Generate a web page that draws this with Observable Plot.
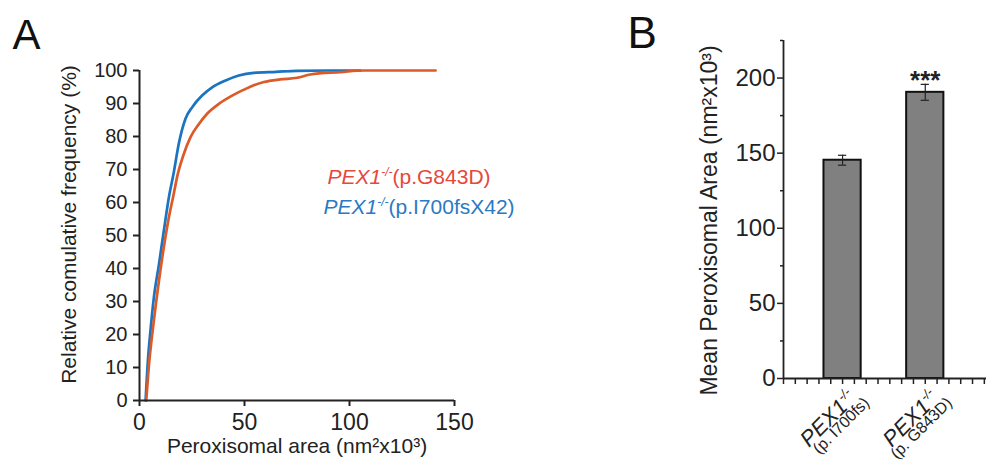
<!DOCTYPE html>
<html><head><meta charset="utf-8">
<script src="https://cdn.jsdelivr.net/npm/d3@7"></script>
<script src="https://cdn.jsdelivr.net/npm/@observablehq/plot@0.6"></script>
<style>
body{margin:0;background:#fff;}
#wrap{position:relative;width:986px;height:466px;overflow:hidden;background:#fff;}
#a{position:absolute;left:0;top:0;}
#b{position:absolute;left:560px;top:0;}
</style></head><body><div id="wrap"><div id="a"></div><div id="b"></div></div>
<script>
// ---------- Panel A data (cumulative distributions) ----------
const seriesNames = ["p.I700fsX42", "p.G843D"];
const blueX = [2.9, 4.1, 5.2, 6.8, 9.2, 11.6, 14.0, 16.3, 18.7, 21.9, 25.1, 29.8, 34.6, 41.0, 47.3, 54.4, 65, 75, 90, 105.2];
const blueY = [0, 13, 21, 31, 41, 51.5, 61.6, 69, 77.8, 85.4, 88.9, 92.4, 94.9, 97, 98.5, 99.3, 99.6, 99.9, 100, 100];
const redX = [3.2, 4.4, 6.8, 9.2, 11.6, 14.0, 16.3, 17.9, 21.1, 24.3, 28.3, 32.2, 37.8, 44.1, 50.5, 54.4, 59.2, 67, 75.1, 81.4, 95.7, 106.7, 141];
const redY = [0, 10, 24, 36, 46.5, 55.5, 62.6, 67.7, 74.7, 79.8, 83.8, 86.9, 89.9, 92.4, 94.4, 95.5, 96.5, 97.3, 97.8, 98.8, 99.5, 100, 100];
const xTicksA = [0, 50, 100, 150];
const yTicksA = [0, 10, 20, 30, 40, 50, 60, 70, 80, 90, 100];
const legendGene = ["PEX1", "PEX1"];
const legendSup = ["-/-", "-/-"];
const legendVariant = ["(p.G843D)", "(p.I700fsX42)"];

// ---------- Panel B data (means) ----------
const catGene = ["PEX1", "PEX1"];
const catSup = ["-/-", "-/-"];
const catVariant = ["(p. I700fs)", "(p. G843D)"];
const catPos = [1, 2];
const meanArea = [145.3, 190.5];
const semArea = [3.3, 5.3];
const sigMarks = ["", "***"];
const yTicksB = [0, 50, 100, 150, 200];
const yMinorB = [25, 75, 125, 175, 225];

const BLUE = "#1a74c0", ORANGE = "#dc5a27";
const FONT = "'Liberation Sans', Arial, sans-serif";

const curves = [
  ...blueX.map((x, i) => ({series: seriesNames[0], x, y: blueY[i]})),
  ...redX.map((x, i) => ({series: seriesNames[1], x, y: redY[i]}))
];

function setRich(el, lines, lineGap, lineShift) {
  const t = d3.select(el);
  t.selectAll("*").remove();
  t.text(null);
  lines.forEach((segs, li) => {
    let shift = 0;
    segs.forEach((s, si) => {
      const ts = t.append("tspan").text(s.t);
      let dy = 0;
      if (si === 0 && li > 0) { ts.attr("x", lineShift || 0); dy += lineGap; }
      if (s.sup) { dy -= s.sup; shift = s.sup; }
      else if (shift) { dy += shift; shift = 0; }
      if (dy) ts.attr("dy", dy);
      if (s.size) ts.attr("font-size", s.size);
      if (s.italic) ts.attr("font-style", "italic");
    });
  });
}
function findTexts(svg, str) {
  return d3.select(svg).selectAll("text").filter(function() { return this.textContent === str; }).nodes();
}

// ---------- Panel A ----------
const plotA = Plot.plot({
  width: 560, height: 466,
  marginLeft: 139, marginRight: 106, marginTop: 70, marginBottom: 66,
  style: {fontFamily: FONT, background: "white", color: "#222"},
  x: {domain: [0, 150], axis: null},
  y: {domain: [0, 100], axis: null},
  color: {domain: seriesNames, range: [BLUE, ORANGE]},
  marks: [
    Plot.axisY({ticks: yTicksA, tickSize: 6, tickPadding: 6, fontSize: 20, strokeWidth: 2, color: "#222", label: null}),
    Plot.axisX({ticks: xTicksA, tickSize: 6, tickPadding: 7, fontSize: 23, strokeWidth: 2, color: "#222", label: null}),
    Plot.line(curves, {x: "x", y: "y", z: "series", stroke: "series", strokeWidth: 2.7, curve: "monotone-x"}),
    Plot.ruleX([0], {stroke: "#222", strokeWidth: 2}),
    Plot.ruleY([0], {stroke: "#222", strokeWidth: 2}),
    Plot.text(["Relative comulative frequency (%)"], {text: d => d, frameAnchor: "left", rotate: -90, dx: -70, dy: -11, fontSize: 21, lineAnchor: "middle", textAnchor: "middle", fill: "#222"}),
    Plot.text(["Peroxisomal area (nm²x10³)"], {text: d => d, frameAnchor: "bottom", dy: 46, fontSize: 21, lineAnchor: "middle", fill: "#222"}),
    Plot.text(["A"], {text: d => d, frameAnchor: "top-left", dx: -127, dy: -22, fontSize: 42, lineAnchor: "bottom", textAnchor: "start", fill: "#111"}),
    Plot.text([0], {text: i => legendGene[i] + legendSup[i] + legendVariant[i], frameAnchor: "top-left", dx: 188, dy: 113, fontSize: 21, lineAnchor: "bottom", textAnchor: "start", fill: "#e6483b"}),
    Plot.text([1], {text: i => legendGene[i] + legendSup[i] + legendVariant[i], frameAnchor: "top-left", dx: 184, dy: 143, fontSize: 21, lineAnchor: "bottom", textAnchor: "start", fill: "#2b79c3"})
  ]
});
document.getElementById("a").appendChild(plotA);
[0, 1].forEach(i => {
  findTexts(plotA, legendGene[i] + legendSup[i] + legendVariant[i]).forEach(el =>
    setRich(el, [[{t: legendGene[i], italic: true}, {t: legendSup[i], italic: true, size: 12, sup: 8}, {t: legendVariant[i]}]], 0));
});

// ---------- Panel B ----------
const bars = catPos.map((pos, i) => ({pos, gene: catGene[i], sup: catSup[i], variant: catVariant[i], mean: meanArea[i], sem: semArea[i], sig: sigMarks[i]}));
const xStart = 2 / 7;
const xMinorB = d3.range(2, 20).map(k => k / 7);
const barHalf = 0.225, capHalf = 0.05;

const plotB = Plot.plot({
  width: 426, height: 466,
  marginLeft: 223, marginRight: 0, marginTop: 40, marginBottom: 88,
  style: {fontFamily: FONT, background: "white", color: "#222", overflow: "visible"},
  x: {domain: [xStart, 2.7404], axis: null},
  y: {domain: [0, 225], axis: null},
  marks: [
    Plot.axisY({ticks: yTicksB, tickSize: 6, tickPadding: 2, fontSize: 24, strokeWidth: 1.5, color: "#222", label: null}),
    Plot.axisY({ticks: yMinorB, tickSize: 3, tickFormat: () => "", strokeWidth: 1.5, color: "#222", label: null}),
    Plot.axisX({ticks: xMinorB, tickSize: 6, tickFormat: () => "", strokeWidth: 1.5, color: "#222", label: null}),
    Plot.rectY(bars, {x1: d => d.pos - barHalf, x2: d => d.pos + barHalf, y: "mean", fill: "#808080", stroke: "#111", strokeWidth: 2}),
    Plot.ruleX(bars, {x: "pos", y1: d => d.mean - d.sem, y2: d => d.mean + d.sem, stroke: "#222", strokeWidth: 1.2}),
    Plot.ruleY(bars, {y: d => d.mean + d.sem, x1: d => d.pos - capHalf, x2: d => d.pos + capHalf, stroke: "#222", strokeWidth: 1.2}),
    Plot.ruleY(bars, {y: d => d.mean - d.sem, x1: d => d.pos - capHalf, x2: d => d.pos + capHalf, stroke: "#222", strokeWidth: 1.2}),
    Plot.ruleX([xStart], {stroke: "#222", strokeWidth: 1.8}),
    Plot.ruleY([0], {stroke: "#222", strokeWidth: 1.8}),
    Plot.text(bars.filter(d => d.sig), {x: "pos", y: d => d.mean + d.sem, text: "sig", dy: 5, lineAnchor: "bottom", fontSize: 26, fontWeight: "bold", fill: "#222"}),
    Plot.text(["Mean Peroxisomal Area (nm²x10³)"], {text: d => d, frameAnchor: "left", rotate: -90, dx: -73.4, dy: 11, fontSize: 23, lineAnchor: "middle", textAnchor: "middle", fill: "#222"}),
    Plot.text(["B"], {text: d => d, frameAnchor: "top-left", dx: -156, dy: 7, fontSize: 44, lineAnchor: "bottom", textAnchor: "start", fill: "#111"}),
    Plot.text(bars, {x: "pos", frameAnchor: "bottom", text: d => d.gene + d.sup, rotate: -45, textAnchor: "end", lineAnchor: "bottom", dx: 15, dy: 21, fontSize: 22, fill: "#222"})
  ]
});
document.getElementById("b").appendChild(plotB);
catPos.forEach((_, i) => {
  const els = findTexts(plotB, catGene[i] + catSup[i]).filter(el => !el.querySelector("tspan[font-size]"));
  const el = els[0];
  if (el) setRich(el, [
    [{t: catGene[i], italic: true}, {t: catSup[i], italic: true, size: 13, sup: 9}],
    [{t: catVariant[i], size: 16}]
  ], 21, 6);
});
</script>
</body></html>
